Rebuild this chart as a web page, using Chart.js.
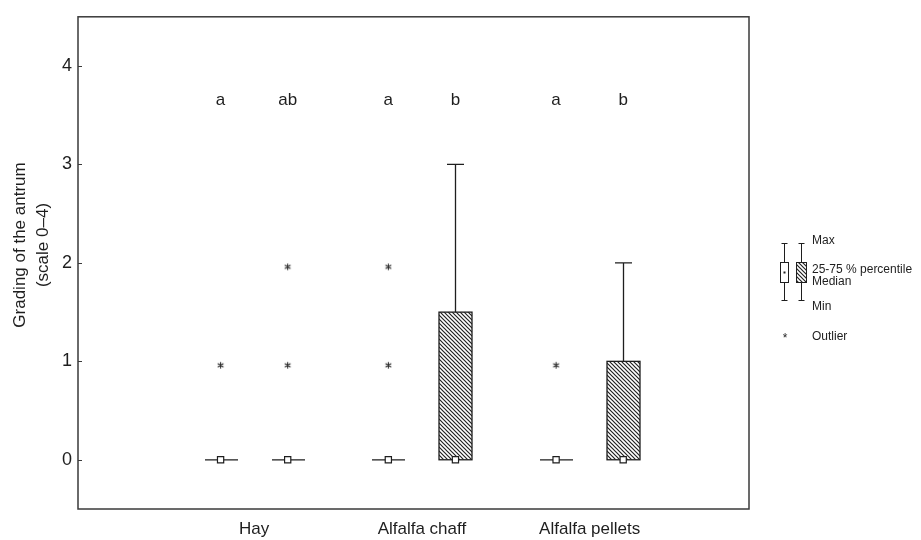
<!DOCTYPE html>
<html>
<head>
<meta charset="utf-8">
<script src="https://cdn.jsdelivr.net/npm/chart.js@4.4.0/dist/chart.umd.min.js"></script>
<style>
html, body { margin:0; padding:0; background:#fff; }
#wrap { width:921px; height:540px; }
</style>
</head>
<body>
<div id="wrap"><canvas id="chart" width="921" height="540"></canvas></div>
<script>
// data
var groups = ["Hay", "Alfalfa chaff", "Alfalfa pellets"]
var groupPos = [1, 2, 3]
var boxPos = [0.8, 1.2, 1.8, 2.2, 2.8, 3.2]
var boxMin = [0, 0, 0, 0, 0, 0]
var boxQ1 = [0, 0, 0, 0, 0, 0]
var boxMedian = [0, 0, 0, 0, 0, 0]
var boxQ3 = [0, 0, 0, 1.5, 0, 1]
var boxMax = [0, 0, 0, 3, 0, 2]
var boxHatched = [false, true, false, true, false, true]
var letters = ["a", "ab", "a", "b", "a", "b"]
var letterLevel = 3.65
var outlierX = [0.8, 1.2, 1.2, 1.8, 1.8, 2.8]
var outlierY = [0.96, 0.96, 1.96, 0.96, 1.96, 0.96]
var yTicks = [0, 1, 2, 3, 4]

var FONT = "'Liberation Sans', Arial, sans-serif"
var INK = "#1e1e1e"

function makeHatch(ctx){
    var c = document.createElement('canvas')
    c.width = 4; c.height = 4
    var g = c.getContext('2d')
    g.fillStyle = '#fff'
    g.fillRect(0, 0, 4, 4)
    g.strokeStyle = '#222'
    g.lineWidth = 1.2
    g.beginPath()
    g.moveTo(-1, -1); g.lineTo(5, 5)
    g.moveTo(-1, 3); g.lineTo(1, 5)
    g.moveTo(3, -1); g.lineTo(5, 1)
    g.stroke()
    return ctx.createPattern(c, 'repeat')
}

// small six-armed asterisk used as point style for outliers
function makeAsterisk(){
    var c = document.createElement('canvas')
    c.width = 9; c.height = 9
    var g = c.getContext('2d')
    g.strokeStyle = '#2a2a2a'
    g.lineWidth = 1.1
    g.beginPath()
    for (var k = 0; k < 3; k++){
        var ang = Math.PI / 2 + k * Math.PI / 3
        g.moveTo(4.5 - Math.cos(ang) * 3.3, 4.5 - Math.sin(ang) * 3.3)
        g.lineTo(4.5 + Math.cos(ang) * 3.3, 4.5 + Math.sin(ang) * 3.3)
    }
    g.stroke()
    return c
}

// boxes and whiskers, drawn under the median / outlier points
var boxPlugin = {
    id: 'boxes',
    beforeDatasetsDraw: function(chart){
        var ctx = chart.ctx
        var x = chart.scales.x, y = chart.scales.y
        var half = 16.5, cap = 8.5
        var pattern = makeHatch(ctx)
        ctx.save()
        ctx.strokeStyle = INK
        ctx.lineWidth = 1.3
        boxPos.forEach(function(p, i){
            var px = Math.round(x.getPixelForValue(p)) + 0.5
            var yMin = y.getPixelForValue(boxMin[i])
            var yQ1 = y.getPixelForValue(boxQ1[i])
            var yQ3 = y.getPixelForValue(boxQ3[i])
            var yMax = y.getPixelForValue(boxMax[i])
            ctx.beginPath()
            if (boxMax[i] > boxQ3[i]){
                ctx.moveTo(px, yQ3); ctx.lineTo(px, yMax)
                ctx.moveTo(px - cap, yMax); ctx.lineTo(px + cap, yMax)
            }
            if (boxMin[i] < boxQ1[i]){
                ctx.moveTo(px, yQ1); ctx.lineTo(px, yMin)
                ctx.moveTo(px - cap, yMin); ctx.lineTo(px + cap, yMin)
            }
            ctx.stroke()
            if (boxQ3[i] > boxQ1[i]){
                ctx.fillStyle = boxHatched[i] ? pattern : '#fff'
                ctx.fillRect(px - half, yQ3, half * 2, yQ1 - yQ3)
                ctx.strokeRect(px - half, yQ3, half * 2, yQ1 - yQ3)
            } else {
                ctx.beginPath()
                ctx.moveTo(px - half, yQ1); ctx.lineTo(px + half, yQ1)
                ctx.stroke()
            }
        })
        ctx.restore()
    }
}

// frame, inward ticks, significance letters, axis title, key
var decorPlugin = {
    id: 'decor',
    afterDraw: function(chart){
        var ctx = chart.ctx
        var a = chart.chartArea
        var x = chart.scales.x, y = chart.scales.y
        ctx.save()
        ctx.strokeStyle = '#3a3a3a'
        ctx.lineWidth = 1.5
        ctx.strokeRect(a.left, a.top, a.right - a.left, a.bottom - a.top)
        ctx.beginPath()
        yTicks.forEach(function(v){
            var py = Math.round(y.getPixelForValue(v)) + 0.5
            ctx.moveTo(a.left, py); ctx.lineTo(a.left + 4, py)
        })
        ctx.lineWidth = 1
        ctx.stroke()

        ctx.fillStyle = INK
        ctx.font = "17px " + FONT
        ctx.textAlign = 'center'
        ctx.textBaseline = 'middle'
        letters.forEach(function(t, i){
            ctx.fillText(t, x.getPixelForValue(boxPos[i]), y.getPixelForValue(letterLevel))
        })

        ctx.save()
        ctx.translate(20, 245)
        ctx.rotate(-Math.PI / 2)
        ctx.fillText("Grading of the antrum", 0, 0)
        ctx.fillText("(scale 0\u20134)", 0, 23)
        ctx.restore()

        // key
        ctx.strokeStyle = INK
        ctx.lineWidth = 1
        ctx.beginPath()
        ctx.moveTo(784.5, 243); ctx.lineTo(784.5, 301)
        ctx.moveTo(781.5, 243.5); ctx.lineTo(787.5, 243.5)
        ctx.moveTo(781.5, 300.5); ctx.lineTo(787.5, 300.5)
        ctx.moveTo(801.5, 243); ctx.lineTo(801.5, 301)
        ctx.moveTo(798.5, 243.5); ctx.lineTo(804.5, 243.5)
        ctx.moveTo(798.5, 300.5); ctx.lineTo(804.5, 300.5)
        ctx.stroke()
        ctx.fillStyle = '#fff'
        ctx.fillRect(780.5, 262.5, 8, 20)
        ctx.strokeRect(780.5, 262.5, 8, 20)
        ctx.fillStyle = makeHatch(ctx)
        ctx.fillRect(796.5, 262.5, 10, 20)
        ctx.strokeRect(796.5, 262.5, 10, 20)
        ctx.fillStyle = INK
        ctx.fillRect(783.5, 271.5, 2, 2)
        ctx.font = "12px " + FONT
        ctx.textAlign = 'left'
        ctx.fillText("Max", 812, 241)
        ctx.fillText("25-75 % percentile", 812, 270)
        ctx.fillText("Median", 812, 282)
        ctx.fillText("Min", 812, 307)
        ctx.fillText("Outlier", 812, 337)
        ctx.textAlign = 'center'
        ctx.fillText("*", 785, 339)
        ctx.restore()
    }
}

var ctx = document.getElementById('chart')
var chart = new Chart(ctx, {
    type: 'scatter',
    data: {
        datasets: [
            {
                label: 'median',
                data: boxPos.map(function(p, i){ return {x: p, y: boxMedian[i]} }),
                pointStyle: 'rect',
                pointRadius: 4.4,
                backgroundColor: '#fff',
                borderColor: INK,
                borderWidth: 1.2
            },
            {
                label: 'outlier',
                data: outlierX.map(function(p, i){ return {x: p, y: outlierY[i]} }),
                pointStyle: makeAsterisk(),
                pointRadius: 4
            }
        ]
    },
    options: {
        responsive: false,
        animation: false,
        layout: { padding: { left: 0, top: 13, right: 172, bottom: 0 } },
        plugins: { legend: { display: false }, tooltip: { enabled: false } },
        scales: {
            x: {
                type: 'linear',
                min: -0.05,
                max: 3.95,
                grid: { display: false, drawTicks: false },
                border: { display: false },
                afterBuildTicks: function(s){ s.ticks = groupPos.map(function(v){ return {value: v} }) },
                afterFit: function(s){ s.height = 31 },
                ticks: {
                    autoSkip: false,
                    maxRotation: 0,
                    padding: 10,
                    color: INK,
                    font: { family: FONT, size: 17 },
                    callback: function(v){ return groups[groupPos.indexOf(v)] }
                }
            },
            y: {
                min: -0.5,
                max: 4.5,
                grid: { display: false, drawTicks: false },
                border: { display: false },
                afterBuildTicks: function(s){ s.ticks = yTicks.map(function(v){ return {value: v} }) },
                afterFit: function(s){ s.width = 78 },
                ticks: {
                    padding: 6,
                    color: INK,
                    font: { family: FONT, size: 18 }
                }
            }
        }
    },
    plugins: [boxPlugin, decorPlugin]
})
</script>
</body>
</html>
